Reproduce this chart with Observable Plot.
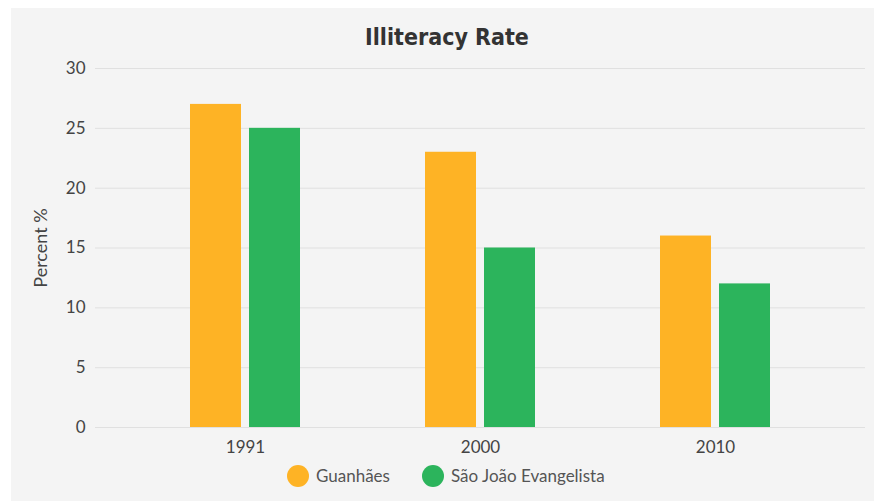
<!DOCTYPE html>
<html><head><meta charset="utf-8">
<script src="https://cdn.jsdelivr.net/npm/d3@7"></script>
<script src="https://cdn.jsdelivr.net/npm/@observablehq/plot@0.6"></script>
<style>
html,body{margin:0;padding:0;background:#fff;width:874px;height:501px;overflow:hidden;}
#panel{position:absolute;left:11px;top:8px;width:863px;height:493px;background:#f4f4f4;font-family:Lato,sans-serif;}
#title{position:absolute;left:9px;right:0;top:14px;text-align:center;font-family:"Liberation Sans Narrow","DejaVu Sans Condensed",sans-serif;font-weight:bold;font-size:23px;color:#333;line-height:30px;}
#chart{position:absolute;left:0;top:50px;}
#legend{position:absolute;left:276px;top:457px;display:flex;align-items:center;font-size:17px;color:#555;line-height:22px;}
.sw{width:22px;height:22px;border-radius:50%;margin-right:7px;flex:none;}
.lab{margin-right:32px;white-space:nowrap;}
</style></head><body>
<div id="panel"><div id="title">Illiteracy Rate</div><div id="chart"></div><div id="legend"></div></div>
<script>
const years = ["1991", "2000", "2010"];
const seriesNames = ["Guanhães", "São João Evangelista"];
const guanhaes = [27, 23, 16];
const saoJoao = [25, 15, 12];
const yTicks = [0, 5, 10, 15, 20, 25, 30];
const yLabel = "Percent %";
const colors = ["#FEB325", "#2CB45C"];

const rowsG = years.map((y, i) => ({year: y, value: guanhaes[i], series: seriesNames[0]}));
const rowsS = years.map((y, i) => ({year: y, value: saoJoao[i], series: seriesNames[1]}));

const chart = Plot.plot({
  width: 863,
  height: 400,
  marginLeft: 84,
  marginRight: 9,
  marginTop: 10,
  marginBottom: 31,
  style: {background: "transparent", fontFamily: "Lato, sans-serif", color: "#444"},
  x: {domain: years, paddingInner: 0.532, paddingOuter: 0.404, label: null},
  y: {domain: [0, 30], ticks: yTicks, label: null},
  marks: [
    Plot.ruleY(yTicks, {stroke: "#e0e0e0", strokeWidth: 1}),
    Plot.barY(rowsG, {x: "year", y: "value", fill: colors[0], insetRight: 59}),
    Plot.barY(rowsS, {x: "year", y: "value", fill: colors[1], insetLeft: 59}),
    Plot.axisY(yTicks, {tickSize: 0, tickPadding: 10, fontSize: 17, fill: "#444", label: null}),
    Plot.axisX(years, {tickSize: 0, tickPadding: 13, fontSize: 17, fill: "#444", label: null}),
    Plot.text([yLabel], {frameAnchor: "left", textAnchor: "middle", rotate: -90, dx: -54, fontSize: 18, fill: "#444", text: d => d})
  ]
});
document.getElementById("chart").appendChild(chart);

const legend = document.getElementById("legend");
seriesNames.forEach((name, i) => {
  const sw = document.createElement("div");
  sw.className = "sw";
  sw.style.background = colors[i];
  const lab = document.createElement("span");
  lab.className = "lab";
  lab.textContent = name;
  legend.appendChild(sw);
  legend.appendChild(lab);
});
</script>
</body></html>
